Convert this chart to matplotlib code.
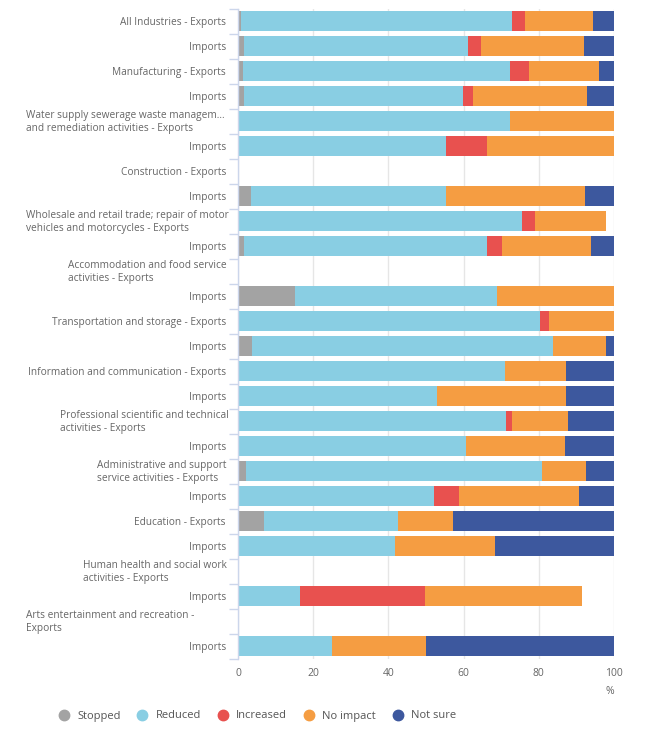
import matplotlib
matplotlib.use("Agg")
import matplotlib.pyplot as plt
from matplotlib.lines import Line2D
import numpy as np

plt.rcParams['font.family'] = ['Open Sans', 'DejaVu Sans']

labels = [
    "All Industries - Exports", "Imports",
    "Manufacturing - Exports", "Imports",
    "Water supply sewerage waste managem...\nand remediation activities - Exports", "Imports",
    "Construction - Exports", "Imports",
    "Wholesale and retail trade; repair of motor\nvehicles and motorcycles - Exports", "Imports",
    "Accommodation and food service\nactivities - Exports", "Imports",
    "Transportation and storage - Exports", "Imports",
    "Information and communication - Exports", "Imports",
    "Professional scientific and technical\nactivities - Exports", "Imports",
    "Administrative and support\nservice activities - Exports", "Imports",
    "Education - Exports", "Imports",
    "Human health and social work\nactivities - Exports", "Imports",
    "Arts entertainment and recreation -\nExports", "Imports",
]

stopped   = [0.9, 1.5, 1.2, 1.5, 0, 0, 0, 3.4, 0, 1.5, 0, 15.1, 0, 3.8, 0, 0, 0, 0, 2.2, 0, 6.8, 0, 0, 0, 0, 0]
reduced   = [71.9, 59.8, 71.1, 58.3, 72.3, 55.2, 0, 51.8, 75.4, 64.6, 0, 53.9, 80.4, 79.9, 70.9, 53.0, 71.4, 60.6, 78.6, 52.1, 35.8, 41.8, 0, 16.5, 0, 25.0]
increased = [3.4, 3.4, 5.2, 2.7, 0, 11.1, 0, 0, 3.5, 4.2, 0, 0, 2.3, 0, 0, 0, 1.4, 0, 0, 6.8, 0, 0, 0, 33.3, 0, 0]
no_impact = [18.2, 27.4, 18.6, 30.4, 27.7, 33.7, 0, 37.0, 18.9, 23.5, 0, 31.0, 17.3, 14.1, 16.4, 34.3, 14.9, 26.3, 11.8, 31.7, 14.5, 26.5, 0, 41.7, 0, 25.0]
not_sure  = [5.6, 7.9, 3.9, 7.1, 0, 0, 0, 7.8, 0, 6.2, 0, 0, 0, 2.2, 12.7, 12.7, 12.3, 13.1, 7.4, 9.4, 42.9, 31.7, 0, 0, 0, 50.0]

series_names = ["Stopped", "Reduced", "Increased", "No impact", "Not sure"]
series_vals = [stopped, reduced, increased, no_impact, not_sure]
colors = ["#a3a3a3", "#89cee3", "#e8514f", "#f59d42", "#3d589e"]

W, H = 650, 738
fig = plt.figure(figsize=(W / 100, H / 100), dpi=100)
ax_left, ax_right, ax_top, ax_bot = 238, 614, 8.5, 658.5
ax = fig.add_axes([ax_left / W, 1 - ax_bot / H, (ax_right - ax_left) / W, (ax_bot - ax_top) / H])

n = len(labels)
y = np.arange(n)
left = np.zeros(n)
for name, vals, c in zip(series_names, series_vals, colors):
    v = np.array(vals, dtype=float)
    ax.barh(y, v, left=left, height=0.8, color=c, edgecolor='none', label=name, zorder=3)
    left += v

ax.set_xlim(0, 100)
ax.set_ylim(n - 0.5, -0.5)

for s in ["top", "right", "bottom"]:
    ax.spines[s].set_visible(False)
ax.spines["left"].set_color("#ccd6eb")
ax.spines["left"].set_linewidth(1)
ax.spines["left"].set_zorder(4)

ax.set_xticks([0, 20, 40, 60, 80, 100])
ax.tick_params(axis='x', length=0, pad=7, labelsize=7.5, labelcolor="#666666")
ax.grid(axis='x', color="#e6e6e6", linewidth=1, zorder=0)

ax.set_yticks([])
ax.set_yticks(np.arange(n + 1) - 0.5, minor=True)
ax.tick_params(axis='y', which='minor', length=6.5, color="#ccd6eb", width=1, labelleft=False)

# category labels
wrapped_left = {4: 26, 8: 26, 10: 68, 16: 60, 18: 97, 22: 83, 24: 26}
text_kw = dict(fontsize=7.3, color="#666666", va='center', linespacing=1.3)
for i, lab in enumerate(labels):
    yf = 1 - (ax_top + 1.2 + (i + 0.5) * (ax_bot - ax_top) / n) / H
    if i in wrapped_left:
        fig.text(wrapped_left[i] / W, yf, lab, ha='left', multialignment='left', **text_kw)
    else:
        fig.text(226 / W, yf, lab, ha='right', **text_kw)

fig.text(614 / W, 1 - 692 / H, "%", ha='right', va='center', fontsize=7.5, color="#666666")

handles = [Line2D([0], [0], marker='o', linestyle='none', markersize=7.5,
                  markerfacecolor=c, markeredgecolor=c) for c in colors]
fig.legend(handles, series_names, loc='center left', bbox_to_anchor=(59.5 / W, 1 - 716 / H),
           ncol=5, frameon=False, fontsize=8.0, labelcolor="#555555",
           handlelength=0.8, handletextpad=0.8, columnspacing=1.55, borderpad=0, borderaxespad=0)

fig.savefig("out.png", dpi=100)
